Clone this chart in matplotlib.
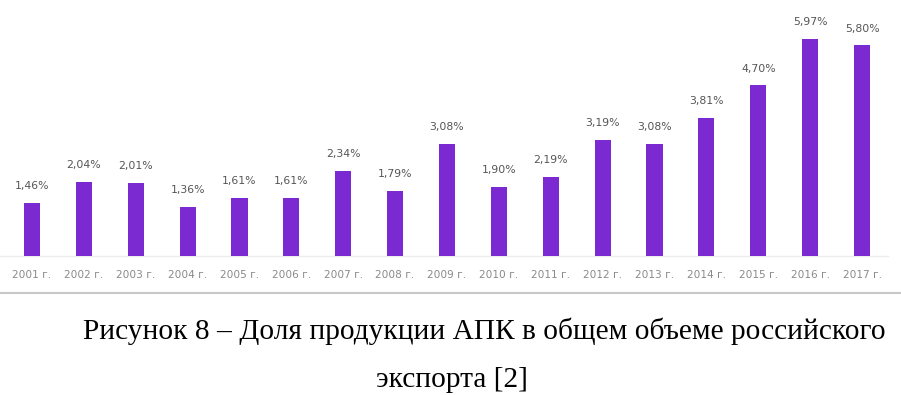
import matplotlib
matplotlib.use("Agg")
import matplotlib.pyplot as plt

years = ["2001 г.", "2002 г.", "2003 г.", "2004 г.", "2005 г.", "2006 г.", "2007 г.",
         "2008 г.", "2009 г.", "2010 г.", "2011 г.", "2012 г.", "2013 г.", "2014 г.",
         "2015 г.", "2016 г.", "2017 г."]
values = [1.46, 2.04, 2.01, 1.36, 1.61, 1.61, 2.34, 1.79, 3.08, 1.90, 2.19, 3.19,
          3.08, 3.81, 4.70, 5.97, 5.80]
labels = ["1,46%", "2,04%", "2,01%", "1,36%", "1,61%", "1,61%", "2,34%", "1,79%",
          "3,08%", "1,90%", "2,19%", "3,19%", "3,08%", "3,81%", "4,70%", "5,97%", "5,80%"]
caption1 = "Рисунок 8 – Доля продукции АПК в общем объеме российского"
caption2 = "экспорта [2]"

W, H = 901, 395
fig = plt.figure(figsize=(W / 100, H / 100), dpi=100)
fig.patch.set_facecolor("white")

base_px = 256
top_ylim = 6.5
ppu = 36.3
ax_h = top_ylim * ppu
ax = fig.add_axes([6 / W, (H - base_px) / H, 882 / W, ax_h / H])
x = list(range(len(values)))
ax.bar(x, values, width=0.31, color="#7a2ad0", zorder=3)
ax.set_xlim(-0.5, len(values) - 0.5)
ax.set_ylim(0, top_ylim)
for s in ax.spines.values():
    s.set_visible(False)
ax.set_yticks([])
ax.set_xticks(x)
ax.set_xticklabels(years, fontsize=7.6, color="#8a8a8a", family="DejaVu Sans")
ax.tick_params(axis="x", length=0, pad=10)
ax.axhline(0, color="#ececec", lw=1, zorder=1, xmin=-0.01, xmax=1.0, clip_on=False)
for xi, v, lab in zip(x, values, labels):
    ax.annotate(lab, (xi, v), xytext=(0, 8.5), textcoords="offset points",
                ha="center", va="bottom", fontsize=7.8, color="#555555",
                family="DejaVu Sans", annotation_clip=False)

# separator line
fig.add_artist(plt.Line2D([0, 1], [1 - 293 / H, 1 - 293 / H],
                          color="#c8c8c8", lw=1.5, transform=fig.transFigure))

fig.text(484 / W, 1 - 331 / H, caption1, ha="center", va="center",
         fontsize=21.2, family="Liberation Serif", color="black")
fig.text(452 / W, 1 - 380 / H, caption2, ha="center", va="center",
         fontsize=21.2, family="Liberation Serif", color="black")

fig.savefig("out.png", dpi=100, facecolor="white")
